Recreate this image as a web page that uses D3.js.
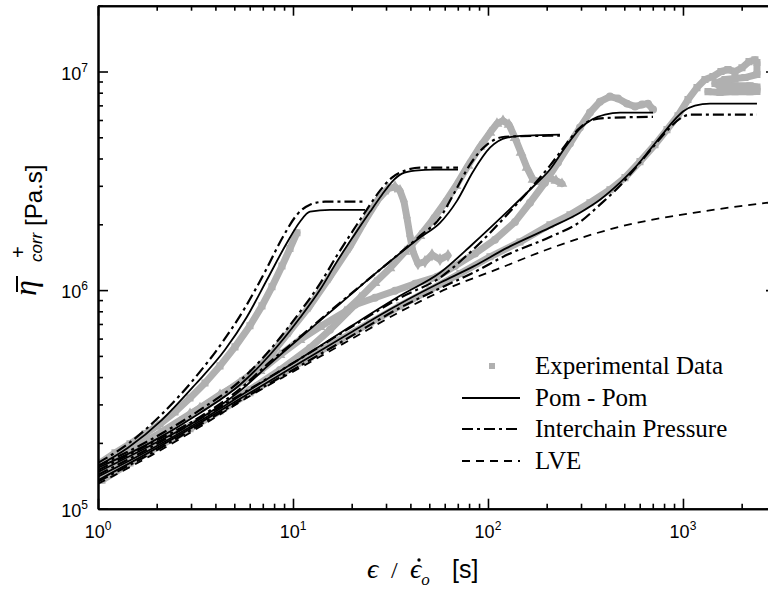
<!DOCTYPE html>
<html>
<head>
<meta charset="utf-8">
<script src="https://cdn.jsdelivr.net/npm/d3@7/dist/d3.min.js"></script>
<style>
  body { margin: 0; background: #fff; }
  svg { display: block; }
  .axis path, .axis line { stroke: #000; }
  .axis path { stroke-width: 2; }
  .axis line { stroke-width: 1.6; }
</style>
</head>
<body>
<div id="chart"></div>
<script>
// ---- data (time in s, viscosity in Pa.s) ----
// LVE envelope
var lveT   = [1, 1.848, 3.335, 6.018, 10.86, 19.60, 35.38, 56.73, 115.2, 207.9, 475.3, 1222, 2729];
var lveEta = [1.30e5, 1.74e5, 2.37e5, 3.28e5, 4.41e5, 5.92e5, 7.96e5, 9.82e5, 1.26e6, 1.55e6, 1.95e6, 2.28e6, 2.51e6];

// rate 1 (fastest)
var exp1T   = [1.024, 1.222, 1.459, 1.742, 2.079, 2.483, 2.964, 3.538, 4.224, 5.042, 6.018, 6.934, 7.804, 8.782, 9.652, 10.48];
var exp1Eta = [1.62e5, 1.80e5, 1.98e5, 2.20e5, 2.44e5, 2.77e5, 3.21e5, 3.76e5, 4.50e5, 5.50e5, 6.87e5, 8.47e5, 1.035e6, 1.29e6, 1.55e6, 1.83e6];
var pom1T   = [1, 1.425, 2.129, 3.144, 4.481, 5.809, 7.356, 9.316, 10.86, 12.22, 15.48, 23.4];
var pom1Eta = [1.57e5, 1.90e5, 2.55e5, 3.69e5, 5.33e5, 7.55e5, 1.115e6, 1.647e6, 2.054e6, 2.283e6, 2.33e6, 2.33e6];
var icp1T   = [1, 1.425, 2.129, 3.144, 4.325, 5.673, 7.185, 8.886, 10.48, 12.22, 14.59, 23.4];
var icp1Eta = [1.62e5, 1.98e5, 2.71e5, 3.97e5, 5.74e5, 8.30e5, 1.213e6, 1.754e6, 2.212e6, 2.458e6, 2.537e6, 2.537e6];

// rate 2
var exp2T   = [1.024, 1.459, 2.079, 2.964, 4.224, 6.018, 7.621, 9.652, 12.22, 15.48, 19.60, 23.40, 27.29, 30.70, 33.35, 35.38, 37.09, 38.42, 39.81, 41.25, 43.75, 47.53, 51.62, 56.73, 62.36];
var exp2Eta = [1.55e5, 1.86e5, 2.22e5, 2.71e5, 3.28e5, 4.09e5, 5.00e5, 6.51e5, 8.47e5, 1.15e6, 1.58e6, 2.08e6, 2.59e6, 2.91e6, 2.97e6, 2.85e6, 2.54e6, 2.14e6, 1.77e6, 1.50e6, 1.32e6, 1.35e6, 1.45e6, 1.38e6, 1.44e6];
var pom2T   = [1, 1.848, 3.335, 5.348, 7.621, 10.86, 13.76, 16.81, 20.31, 24.83, 28.61, 32.19, 36.22, 42.23, 53.48, 70.20];
var pom2Eta = [1.54e5, 2.00e5, 2.74e5, 3.69e5, 5.06e5, 7.47e5, 1.003e6, 1.35e6, 1.75e6, 2.28e6, 2.73e6, 3.13e6, 3.41e6, 3.52e6, 3.56e6, 3.56e6];
var icp2T   = [1, 1.848, 3.335, 5.348, 7.621, 10.86, 13.76, 16.81, 20.31, 24.25, 27.94, 32.19, 37.53, 44.80, 70.20];
var icp2Eta = [1.57e5, 2.06e5, 2.83e5, 3.84e5, 5.33e5, 7.95e5, 1.07e6, 1.44e6, 1.87e6, 2.38e6, 2.85e6, 3.27e6, 3.52e6, 3.63e6, 3.63e6];

// rate 3
var exp3T   = [1.048, 1.297, 1.642, 2.079, 2.633, 3.335, 4.224, 5.348, 6.774, 8.577, 10.86, 13.76, 18.48, 22.06, 26.33, 31.43, 37.53, 44.80, 51.62, 59.48, 68.53, 78.98, 91.0, 102.4, 111.2, 119.4, 128.2, 137.6, 147.7, 158.5, 170.2, 184.8, 203.1, 223.2, 239.6];
var exp3Eta = [1.52e5, 1.69e5, 1.90e5, 2.15e5, 2.49e5, 2.89e5, 3.32e5, 3.76e5, 4.27e5, 5.05e5, 5.92e5, 6.79e5, 7.96e5, 9.22e5, 1.08e6, 1.26e6, 1.50e6, 1.77e6, 2.08e6, 2.48e6, 3.00e6, 3.71e6, 4.53e6, 5.25e6, 5.78e6, 5.96e6, 5.72e6, 4.97e6, 4.25e6, 3.63e6, 3.20e6, 3.13e6, 3.27e6, 3.17e6, 3.07e6];
var pom3T   = [1, 1.848, 3.335, 5.348, 7.621, 10.86, 17.42, 27.94, 44.80, 56.73, 69.34, 83.78, 102.4, 125.2, 158.5, 233.9];
var pom3Eta = [1.47e5, 1.94e5, 2.58e5, 3.46e5, 4.60e5, 6.05e5, 8.66e5, 1.24e6, 1.74e6, 2.03e6, 2.56e6, 3.48e6, 4.48e6, 4.98e6, 5.09e6, 5.14e6];
var icp3T   = [1, 1.848, 3.335, 5.348, 7.621, 10.86, 17.42, 27.94, 44.80, 56.73, 67.72, 80.86, 98.83, 122.3, 233.9];
var icp3Eta = [1.50e5, 1.98e5, 2.63e5, 3.53e5, 4.70e5, 6.11e5, 8.75e5, 1.24e6, 1.77e6, 2.14e6, 2.82e6, 3.75e6, 4.63e6, 5.03e6, 5.09e6];

// rate 4
var exp4T   = [1.048, 1.459, 2.079, 2.964, 4.224, 6.018, 8.577, 12.22, 15.48, 20.80, 26.33, 33.35, 42.23, 54.76, 67.72, 85.77, 108.6, 137.6, 164.2, 196.0, 228.6, 263.4, 296.3, 333.5, 375.3, 422.4, 464.2, 516.2, 567.3, 616.1, 661.5, 702.0];
var exp4Eta = [1.44e5, 1.69e5, 2.00e5, 2.39e5, 2.86e5, 3.50e5, 4.31e5, 5.44e5, 6.58e5, 8.57e5, 9.22e5, 9.93e5, 1.07e6, 1.15e6, 1.29e6, 1.47e6, 1.70e6, 2.05e6, 2.51e6, 3.10e6, 3.83e6, 4.68e6, 5.54e6, 6.49e6, 7.28e6, 7.68e6, 7.52e6, 7.13e6, 6.91e6, 7.06e6, 7.13e6, 6.70e6];
var pom4T   = [1, 1.848, 3.335, 6.018, 10.86, 19.60, 35.38, 56.73, 83.78, 125.2, 170.2, 207.9, 248.3, 296.3, 341.5, 398.1, 475.3, 702.0];
var pom4Eta = [1.40e5, 1.86e5, 2.52e5, 3.50e5, 4.85e5, 6.79e5, 9.42e5, 1.20e6, 1.63e6, 2.28e6, 2.97e6, 3.56e6, 4.48e6, 5.48e6, 6.03e6, 6.35e6, 6.49e6, 6.49e6];
var icp4T   = [1, 1.848, 3.335, 6.018, 10.86, 19.60, 35.38, 56.73, 83.78, 125.2, 170.2, 207.9, 248.3, 289.4, 333.5, 398.1, 702.0];
var icp4Eta = [1.43e5, 1.90e5, 2.58e5, 3.53e5, 4.85e5, 6.72e5, 9.22e5, 1.14e6, 1.53e6, 2.21e6, 3.00e6, 3.71e6, 4.58e6, 5.42e6, 5.96e6, 6.13e6, 6.20e6];

// rate 5 (slowest); the tail runs back and forth through the wide scatter block
var exp5T   = [1.048, 1.459, 2.079, 2.964, 4.224, 6.018, 8.577, 12.22, 17.42, 24.83, 35.38, 50.42, 71.86, 102.4, 145.9, 207.9, 263.4, 333.5, 422.4, 504.2, 601.8, 718.7, 827.8, 942.8, 1061, 1180, 1297, 1425, 1566, 1701, 1848, 2007, 2181, 2340, 2396, 2396, 2079, 1848, 1642, 1459, 1548, 1848, 2206, 2396, 2396, 2206, 1848, 1548, 1344];
var exp5Eta = [1.35e5, 1.62e5, 1.94e5, 2.32e5, 2.80e5, 3.39e5, 4.09e5, 4.95e5, 5.92e5, 7.08e5, 8.47e5, 1.003e6, 1.19e6, 1.42e6, 1.66e6, 1.99e6, 2.21e6, 2.51e6, 2.88e6, 3.27e6, 3.87e6, 4.63e6, 5.42e6, 6.28e6, 7.44e6, 8.44e6, 9.19e6, 9.49e6, 1.00e7, 1.02e7, 1.00e7, 1.04e7, 1.11e7, 1.13e7, 1.10e7, 9.69e6, 9.38e6, 9.28e6, 9.19e6, 8.81e6, 8.60e6, 8.60e6, 8.60e6, 8.50e6, 8.10e6, 8.09e6, 8.09e6, 8.01e6, 8.09e6];
var pom5T   = [1, 1.848, 3.335, 6.018, 10.86, 19.60, 35.38, 56.73, 83.78, 125.2, 207.9, 296.3, 375.3, 475.3, 567.3, 677.3, 789.8, 888.8, 1000, 1152, 1376, 2396];
var pom5Eta = [1.35e5, 1.82e5, 2.47e5, 3.39e5, 4.65e5, 6.37e5, 8.66e5, 1.08e6, 1.28e6, 1.56e6, 1.93e6, 2.26e6, 2.59e6, 3.10e6, 3.63e6, 4.39e6, 5.20e6, 5.90e6, 6.56e6, 6.98e6, 7.13e6, 7.13e6];
var icp5T   = [1, 1.848, 3.335, 6.018, 10.86, 19.60, 35.38, 56.73, 83.78, 125.2, 207.9, 296.3, 375.3, 475.3, 601.8, 718.7, 837.8, 965.2, 1086, 2396];
var icp5Eta = [1.33e5, 1.78e5, 2.42e5, 3.32e5, 4.50e5, 6.11e5, 8.30e5, 1.02e6, 1.20e6, 1.45e6, 1.75e6, 2.05e6, 2.46e6, 3.00e6, 3.83e6, 4.63e6, 5.42e6, 6.09e6, 6.35e6, 6.35e6];

// ticks and legend
var xMajorTicks = [1, 10, 100, 1000];
var xTickExp    = ['0', '1', '2', '3'];
var yMajorTicks = [1e5, 1e6, 1e7];
var yTickExp    = ['5', '6', '7'];
var legendLabels = ['Experimental Data', 'Pom - Pom', 'Interchain Pressure', 'LVE'];

(function (d3) {
  'use strict';

  var width = 768, height = 591;
  var left = 98, right = 776, top = 5.7, bottom = 508.7;
  var grey = '#b0b0b0';
  var dashDot = '11,4,3,4';
  var dashed = '8,6';
  var serif = 'Liberation Serif, DejaVu Serif, serif';

  var x = d3.scaleLog().domain([1, 3000]).range([left, right]);
  var y = d3.scaleLog().domain([1e5, 2e7]).range([bottom, top]);

  var svg = d3.select('#chart').append('svg')
    .attr('width', width).attr('height', height)
    .style('font-family', 'Liberation Sans, Arial, sans-serif');

  svg.append('clipPath').attr('id', 'clip')
    .append('rect')
    .attr('x', left).attr('y', top)
    .attr('width', right - left).attr('height', bottom - top);

  var plot = svg.append('g').attr('clip-path', 'url(#clip)');

  function pairs(t, v) { return t.map(function (d, i) { return [d, v[i]]; }); }

  var modelLine = d3.line()
    .x(function (d) { return x(d[0]); })
    .y(function (d) { return y(d[1]); })
    .curve(d3.curveMonotoneX);
  var bandLine = d3.line()
    .x(function (d) { return x(d[0]); })
    .y(function (d) { return y(d[1]); });

  // experimental data: grey band of markers
  var expSets = [
    { d: pairs(exp1T, exp1Eta), s: d3.symbolSquare },
    { d: pairs(exp2T, exp2Eta), s: d3.symbolDiamond },
    { d: pairs(exp3T, exp3Eta), s: d3.symbolTriangle },
    { d: pairs(exp4T, exp4Eta), s: d3.symbolCircle },
    { d: pairs(exp5T, exp5Eta), s: d3.symbolSquare }
  ];
  expSets.forEach(function (set) {
    plot.append('path')
      .attr('d', bandLine(set.d))
      .attr('fill', 'none')
      .attr('stroke', grey)
      .attr('stroke-width', 7)
      .attr('stroke-linejoin', 'round')
      .attr('stroke-linecap', 'round');
    plot.selectAll(null)
      .data(set.d)
      .enter()
      .append('path')
      .attr('d', d3.symbol().type(set.s).size(50))
      .attr('transform', function (d) { return 'translate(' + x(d[0]) + ',' + y(d[1]) + ')'; })
      .attr('fill', grey);
  });

  // model curves
  var lve = pairs(lveT, lveEta);
  plot.append('path').attr('d', modelLine(lve))
    .attr('fill', 'none').attr('stroke', '#000').attr('stroke-width', 1.8)
    .attr('stroke-dasharray', dashed);

  var icp = [pairs(icp1T, icp1Eta), pairs(icp2T, icp2Eta), pairs(icp3T, icp3Eta), pairs(icp4T, icp4Eta), pairs(icp5T, icp5Eta)];
  icp.forEach(function (c) {
    plot.append('path').attr('d', modelLine(c))
      .attr('fill', 'none').attr('stroke', '#000').attr('stroke-width', 2.2)
      .attr('stroke-dasharray', dashDot);
  });

  var pom = [pairs(pom1T, pom1Eta), pairs(pom2T, pom2Eta), pairs(pom3T, pom3Eta), pairs(pom4T, pom4Eta), pairs(pom5T, pom5Eta)];
  pom.forEach(function (c) {
    plot.append('path').attr('d', modelLine(c))
      .attr('fill', 'none').attr('stroke', '#000').attr('stroke-width', 1.8);
  });

  // axes: major and minor ticks pointing inwards on all four sides
  function isMajor(v) { var l = Math.log10(v); return Math.abs(l - Math.round(l)) < 1e-6; }
  var xMinor = x.ticks().filter(function (v) { return !isMajor(v); });
  var yMinor = y.ticks().filter(function (v) { return !isMajor(v); });

  function drawAxis(axisFn, scale, pos, majors, minors) {
    svg.append('g').attr('class', 'axis').attr('transform', pos)
      .call(axisFn(scale).tickValues(minors).tickSize(-5).tickSizeOuter(0).tickFormat(''));
    svg.append('g').attr('class', 'axis').attr('transform', pos)
      .call(axisFn(scale).tickValues(majors).tickSize(-10).tickSizeOuter(0).tickFormat(''));
  }
  drawAxis(d3.axisBottom, x, 'translate(0,' + bottom + ')', xMajorTicks, xMinor);
  drawAxis(d3.axisTop, x, 'translate(0,' + top + ')', xMajorTicks, xMinor);
  drawAxis(d3.axisLeft, y, 'translate(' + left + ',0)', yMajorTicks, yMinor);
  drawAxis(d3.axisRight, y, 'translate(' + right + ',0)', yMajorTicks, yMinor);

  // tick labels 10^n
  svg.selectAll('.xlab').data(xMajorTicks).enter().append('text')
    .attr('class', 'xlab')
    .attr('x', function (d) { return x(d); })
    .attr('y', 538)
    .attr('text-anchor', 'middle')
    .attr('font-size', 18)
    .each(function (d, i) {
      var t = d3.select(this);
      t.append('tspan').text('10');
      t.append('tspan').attr('dy', -8).attr('font-size', 12).text(xTickExp[i]);
    });

  svg.selectAll('.ylab').data(yMajorTicks).enter().append('text')
    .attr('class', 'ylab')
    .attr('x', 88)
    .attr('y', function (d) { return y(d) + 8; })
    .attr('text-anchor', 'end')
    .attr('font-size', 18)
    .each(function (d, i) {
      var t = d3.select(this);
      t.append('tspan').text('10');
      t.append('tspan').attr('dy', -8).attr('font-size', 12).text(yTickExp[i]);
    });

  // x axis title: epsilon / epsilon-dot_o [s]
  var xt = svg.append('text').attr('y', 578).attr('font-size', 28);
  xt.append('tspan').attr('x', 367).attr('font-family', serif).attr('font-style', 'italic').text('\u03F5');
  xt.append('tspan').attr('x', 391).attr('font-family', serif).attr('font-size', 24).text('/');
  xt.append('tspan').attr('x', 410).attr('font-family', serif).attr('font-style', 'italic').text('\u03F5');
  xt.append('tspan').attr('dy', 7).attr('font-size', 17).attr('font-family', serif).attr('font-style', 'italic').text('o');
  xt.append('tspan').attr('x', 452).attr('dy', -7).attr('font-size', 25).text('[s]');
  svg.append('circle').attr('cx', 419).attr('cy', 560).attr('r', 1.7).attr('fill', '#000');

  // y axis title (rotated): eta-bar_corr^+ [Pa.s]
  var yt = svg.append('g').attr('transform', 'translate(42,298) rotate(-90)');
  yt.append('text').attr('x', 2).attr('y', -6)
    .attr('font-family', serif).attr('font-style', 'italic').attr('font-size', 32)
    .text('\u03B7');
  yt.append('line').attr('x1', 6).attr('x2', 22).attr('y1', -25).attr('y2', -25)
    .attr('stroke', '#000').attr('stroke-width', 2);
  yt.append('text').attr('x', 36).attr('y', 0)
    .attr('font-style', 'italic').attr('font-size', 17).text('corr');
  yt.append('text').attr('x', 40).attr('y', -17)
    .attr('font-size', 20).text('+');
  yt.append('text').attr('x', 72).attr('y', 0)
    .attr('font-size', 24).text('[Pa.s]');

  // legend
  var legend = svg.append('g').attr('class', 'legend');
  var rowY = [366, 398, 429, 461];
  legendLabels.forEach(function (lab, i) {
    legend.append('text')
      .attr('x', 535).attr('y', rowY[i] + 8)
      .attr('font-family', serif).attr('font-size', 25)
      .text(lab);
  });
  legend.append('rect').attr('x', 489).attr('y', rowY[0] - 3)
    .attr('width', 6).attr('height', 6).attr('fill', grey);
  legend.append('line').attr('x1', 462).attr('x2', 520).attr('y1', rowY[1]).attr('y2', rowY[1])
    .attr('stroke', '#000').attr('stroke-width', 1.8);
  legend.append('line').attr('x1', 462).attr('x2', 520).attr('y1', rowY[2]).attr('y2', rowY[2])
    .attr('stroke', '#000').attr('stroke-width', 2.2).attr('stroke-dasharray', dashDot);
  legend.append('line').attr('x1', 462).attr('x2', 520).attr('y1', rowY[3]).attr('y2', rowY[3])
    .attr('stroke', '#000').attr('stroke-width', 1.8).attr('stroke-dasharray', dashed);
})(window.d3);
</script>
</body>
</html>
